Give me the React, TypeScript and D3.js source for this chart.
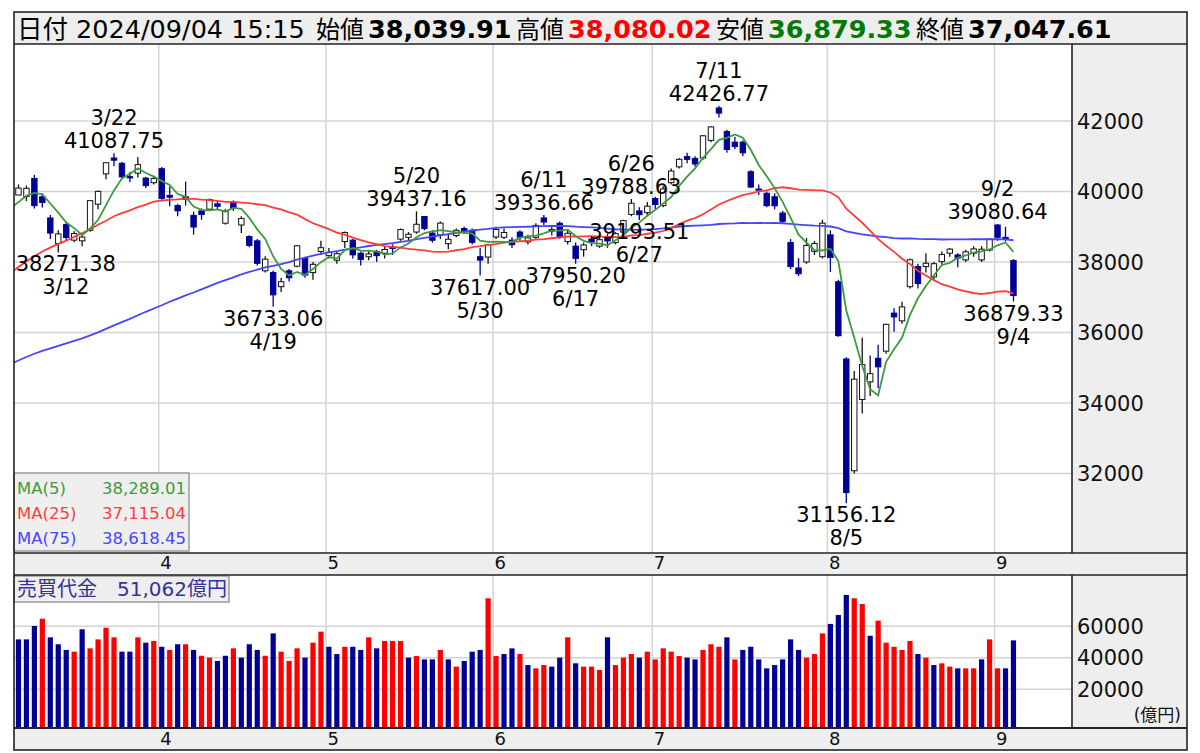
import React from 'react';
import * as d3 from 'd3';

// trading days shown (3/4 sits under the left border)
const dates = ['3/4','3/5','3/6','3/7','3/8','3/11','3/12','3/13','3/14','3/15','3/18','3/19','3/21','3/22','3/25','3/26','3/27','3/28','3/29',
  '4/1','4/2','4/3','4/4','4/5','4/8','4/9','4/10','4/11','4/12','4/15','4/16','4/17','4/18','4/19','4/22','4/23','4/24','4/25','4/26','4/30',
  '5/1','5/2','5/7','5/8','5/9','5/10','5/13','5/14','5/15','5/16','5/17','5/20','5/21','5/22','5/23','5/24','5/27','5/28','5/29','5/30','5/31',
  '6/3','6/4','6/5','6/6','6/7','6/10','6/11','6/12','6/13','6/14','6/17','6/18','6/19','6/20','6/21','6/24','6/25','6/26','6/27','6/28',
  '7/1','7/2','7/3','7/4','7/5','7/8','7/9','7/10','7/11','7/12','7/16','7/17','7/18','7/19','7/22','7/23','7/24','7/25','7/26','7/29','7/30','7/31',
  '8/1','8/2','8/5','8/6','8/7','8/8','8/9','8/13','8/14','8/15','8/16','8/19','8/20','8/21','8/22','8/23','8/26','8/27','8/28','8/29','8/30',
  '9/2','9/3','9/4'];

const opens = [40201,39900,39860,40370,39850,39250,38525,39060,38620,38600,38900,39640,40500,40950,40800,40420,40520,40380,40250,
  40646.7,39890,39600,39850,39322,39450,39500,39650,39100,39700,39050,38720,38600,37750,37700,37300,37750,37880,38100,37700,38300,
  38180,38050,38580,38620,38250,38150,38300,38250,38420,38650,38700,38850,39290,38820,38770,38520,38750,38950,38900,38150,38140,
  38710,38700,38620,38850,38570,38700,39250,38920,39100,38580,38450,38350,38650,38450,38700,38550,38850,39350,39450,39400,
  39800,39600,40250,40700,40990,40940,40950,41450,42370,41700,41400,41400,40560,40070,39950,39850,39390,38550,37830,38000,38300,38150,
  38770,37440,35249.46,32077,34100,34600,35270,35470,36550,36330,37300,37870,37870,37580,38010,38250,38200,38060,38250,38060,38340,
  39050,38700,38039.91];

const highs = [40314,40201,40172,40472,39950,39330,38900,39120,38880,38800,39760,40030,40823,41087.75,40840,40550,40979,40420,40450,
  40697.23,40140,39650,40280,39430,39520,39800,39750,39500,39750,39300,38760,38650,38160,37760,37550,37800,38480,38150,38000,38600,
  38400,38300,38863,38650,38300,38350,38350,38450,38500,38950,38850,39437.16,39300,38900,39150,38780,38950,39000,38950,38400,38520,
  39000,38950,38700,38900,38770,39100,39336.66,39000,39150,38900,38550,38550,38750,38700,38800,38850,39200,39788.63,39550,39700,
  39850,40150,40650,40950,41100,41000,41600,41850,42426.77,41750,41550,41450,40600,40200,40000,39950,39450,38650,38110,38680,38600,39200,
  38900,37500,35300,34911,35849,35350,35650,36250,36690,36870,38100,37950,38250,38000,38300,38400,38250,38350,38450,38450,38650,
  39080.64,39000,38080.02];

const lows = [39926,39896,39727,39518,39545,38650,38271.38,38600,38560,38450,38860,39500,40350,40717,40350,40270,40400,40100,40200,
  39751.29,39580,39300,39600,38774,39200,39450,39500,39060,39450,38820,38420,37900,37700,36733.06,37150,37450,37850,37550,37500,38200,
  38100,37950,38400,38100,37900,38050,38000,38100,38200,38600,38600,38800,38900,38550,38650,38360,38700,38800,38500,37617.0,37950,
  38650,38650,38400,38600,38500,38650,39050,38750,38650,38500,37950.2,38150,38450,38400,38400,38500,38800,39300,39193.51,39300,
  39500,39550,40200,40650,40800,40700,40900,41400,42100,41100,41200,41000,40100,39900,39550,39500,39100,37800,37600,37950,38200,38100,
  37720,35880,31156.12,32000,33700,34200,34420,35400,36020,36250,37250,37250,37700,37500,37900,38150,37850,38000,38150,38000,38300,
  38600,38580,36879.33];

const closes = [40109.23,40097.63,40090.78,39598.71,39688.94,38820.49,38797.51,38695.97,38807.38,38707.64,39740.44,40003.6,40815.66,40888.43,40414.12,40398.03,40762.73,40168.07,40369.44,
  39803.09,39838.91,39451.85,39773.13,38992.08,39347.04,39773.14,39581.81,39442.63,39523.55,39232.8,38471.2,37961.8,38079.7,37068.35,37438.61,37552.16,38460.08,37628.48,37934.76,38405.66,
  38274.05,38236.07,38835.1,38202.37,38073.98,38229.11,38179.46,38356.06,38385.73,38920.26,38787.38,39069.68,38946.93,38617.1,39103.22,38646.11,38900.02,38855.37,38556.87,38054.13,38487.9,
  38923.03,38837.46,38490.17,38703.51,38683.93,39038.16,39134.79,38876.71,38720.47,38814.56,38102.44,38482.11,38570.76,38633.02,38596.47,38804.65,39173.15,39667.07,39341.54,39583.08,
  39631.06,40074.69,40580.76,40913.65,40912.37,40780.7,41580.17,41831.99,42224.02,41190.68,41275.08,41097.69,40126.35,40063.79,39599.0,39594.39,39154.85,37869.51,37667.41,38468.63,38525.95,39101.82,
  38126.33,35909.7,31458.42,34675.46,35089.62,34831.15,35025.0,36232.51,36442.43,36726.64,38062.67,37388.62,37963.97,37951.8,38211.01,38364.27,38110.22,38288.62,38371.76,38362.53,38647.75,
  38700.87,38686.31,37047.61];

// 売買代金 (億円)
const turnover = [55000,51700,51700,60200,64800,53000,48600,45000,43900,58100,46000,51700,59100,53000,43900,43900,53000,49600,50700,
  47000,45000,48600,48600,45000,41300,40100,38000,41300,46000,40100,48600,45000,41300,55500,43900,38000,46000,40100,49600,56600,
  47000,42400,47000,47000,45000,53000,46000,50700,50700,50700,40100,41100,39000,39000,45000,39000,34400,38000,43900,45000,77800,
  41100,42400,46000,42400,35400,33300,35400,34400,40100,53000,36500,34400,34400,32300,53000,35400,40100,42400,40100,43900,
  39000,46000,43900,41100,40100,39000,45000,48600,47000,53000,39000,45000,47000,39000,33300,35400,39000,51700,45000,40100,42400,55500,
  61500,67200,79900,77800,74200,54000,63600,49600,47000,45000,50700,42400,40100,35400,36500,34400,33300,33300,33300,39000,51700,
  33300,33300,51062];

// closes before 3/4 (2023/11/8 - 2024/3/1), used only for the moving averages
const priorCloses = [32166.48,32646.46,32568.11,32585.11,32695.93,33519.7,33424.41,33585.2,33388.03,33354.14,33451.83,33625.53,33447.67,33408.39,33321.22,33486.89,
  33431.51,33231.27,32775.82,33445.9,32858.31,32307.86,32791.8,32843.71,32926.35,32686.25,32970.55,32758.98,33219.39,33675.94,33140.47,33169.05,33254.03,33305.85,33681.24,33539.62,33464.17,
  33288.29,33377.42,33763.18,34441.72,35049.86,35577.11,35901.79,35619.18,35477.75,35466.17,35963.27,36546.95,36517.57,36226.48,36236.47,35751.07,36026.94,36065.86,36286.71,
  36011.46,36158.02,36354.16,36160.66,36119.92,36863.28,36897.42,37963.97,37703.32,38157.94,38487.24,38470.38,38363.61,38262.16,39098.68,39233.71,39239.52,39208.03,39166.19,
  39910.82];

const priceTicks = [42000, 40000, 38000, 36000, 34000, 32000];
const volumeTicks = [60000, 40000, 20000];
const peakDates = ['3/22', '5/20', '6/11', '6/26', '7/11', '9/2'];
const troughDates = ['3/12', '4/19', '5/30', '6/17', '6/27', '8/5', '9/4'];
const maPeriods = [5, 25, 75];
const maColors = ['#3d9a3d', '#ff3c3c', '#4646ff'];
const maLegend = ['38,289.01', '37,115.04', '38,618.45'];
const headerItems = [
  { label: '始値', value: '38,039.91', color: '#000' },
  { label: '高値', value: '38,080.02', color: '#ff0000' },
  { label: '安値', value: '36,879.33', color: '#007a00' },
  { label: '終値', value: '37,047.61', color: '#000' },
];

const FONT = "'DejaVu Sans', 'Noto Sans CJK JP', sans-serif";
const L = 14, R = 1072, AR = 1187;
const PT = 44, PB = 553, VT = 575, VB = 728, BOT = 750;
const DOWN = '#000096';

export default function App() {
  const x = d3.scaleLinear().domain([0, closes.length - 1]).range([10.5, 10.5 + 7.96 * (closes.length - 1)]);
  const y = d3.scaleLinear().domain([32000, 42000]).range([473.5, 121]);
  const yv = d3.scaleLinear().domain([0, 60000]).range([720.8, 626.3]);

  const all = [...priorCloses, ...closes];
  const P = priorCloses.length;
  const maSeries = maPeriods.map(n => closes.map((_, i) => d3.mean(all.slice(P + i - n + 1, P + i + 1)) as number));
  const line = d3.line<number>().x((_, i) => x(i)).y(d => y(d));

  const monthStarts = dates.map((d, i) => i).filter(i => i > 0 && dates[i].split('/')[0] !== dates[i - 1].split('/')[0]);
  const gx = (i: number) => x(i) - 3;

  const labelCenter = (i: number, w: number) => Math.max(L + w / 2 + 1, Math.min(R - w / 2 - 1, x(i)));

  return (
    <div style={{ position: 'absolute', left: 0, top: 0 }}>
      <svg width={1200} height={753} style={{ display: 'block', fontFamily: FONT }}>
        <defs>
          <clipPath id="pc"><rect x={L} y={PT} width={R - L} height={PB - PT} /></clipPath>
          <clipPath id="vc"><rect x={L} y={VT} width={R - L} height={VB - VT} /></clipPath>
        </defs>
        <rect x={0} y={0} width={1200} height={753} fill="#fff" />

        {/* header */}
        <rect x={L} y={12} width={AR - L} height={PT - 12} fill="#eeeeee" />
        <text x={17} y={38} fontSize={25.5} fill="#000">日付 2024/09/04 15:15</text>
        {headerItems.map((h, k) => (
          <g key={h.label}>
            <text x={316 + k * 200} y={38} fontSize={24} fill="#000">{h.label}</text>
            <text x={368 + k * 200} y={38} fontSize={25.5} fontWeight="bold" fill={h.color}>{h.value}</text>
          </g>
        ))}

        {/* side panels and strips */}
        <rect x={R} y={PT} width={AR - R} height={PB - PT} fill="#eeeeee" />
        <rect x={R} y={VT} width={AR - R} height={VB - VT} fill="#eeeeee" />
        <rect x={L} y={PB} width={AR - L} height={VT - PB} fill="#eeeeee" />
        <rect x={L} y={VB} width={AR - L} height={BOT - VB} fill="#eeeeee" />

        {/* grid */}
        <g stroke="#d4d4d4" strokeWidth={1.5}>
          {priceTicks.map(t => <line key={t} x1={L} x2={R} y1={y(t)} y2={y(t)} />)}
          {monthStarts.map(i => <line key={'p' + i} x1={gx(i)} x2={gx(i)} y1={PT} y2={PB} />)}
          {volumeTicks.map(t => <line key={'v' + t} x1={L} x2={R} y1={yv(t)} y2={yv(t)} />)}
          {monthStarts.map(i => <line key={'q' + i} x1={gx(i)} x2={gx(i)} y1={VT} y2={VB} />)}
        </g>

        {/* candles */}
        <g clipPath="url(#pc)">
          {closes.map((c, i) => {
            const o = opens[i];
            const up = c >= o;
            const col = up ? '#111' : DOWN;
            const top = y(Math.max(o, c));
            const h = Math.max(1.2, y(Math.min(o, c)) - top);
            return (
              <g key={i}>
                <line x1={x(i)} x2={x(i)} y1={y(highs[i])} y2={y(lows[i])} stroke={col} strokeWidth={1.3} />
                <rect x={x(i) - 2.7} y={top} width={5.4} height={h} fill={up ? '#fff' : DOWN} stroke={col} strokeWidth={1} />
              </g>
            );
          })}
          {maSeries.slice().reverse().map((s, k) => (
            <path key={k} d={line(s) || ''} fill="none" stroke={maColors[2 - k]} strokeWidth={1.8} />
          ))}
        </g>

        {/* volume */}
        <g clipPath="url(#vc)">
          {turnover.map((v, i) => {
            const up = i === 0 ? true : closes[i] >= closes[i - 1];
            return <rect key={i} x={x(i) - 2.6} y={yv(v)} width={5.2} height={VB - yv(v)} fill={up ? '#ff0000' : DOWN} />;
          })}
        </g>

        {/* annotations */}
        <g fontSize={21} fill="#000" textAnchor="middle">
          {peakDates.map(d => {
            const i = dates.indexOf(d);
            const v = highs[i].toFixed(2);
            const cx = labelCenter(i, v.length * 12.7);
            const by = y(highs[i]) - 5;
            return (
              <g key={d}>
                <text x={cx} y={by - 23}>{d}</text>
                <text x={cx} y={by}>{v}</text>
              </g>
            );
          })}
          {troughDates.map(d => {
            const i = dates.indexOf(d);
            const v = lows[i].toFixed(2);
            const cx = labelCenter(i, v.length * 12.7);
            const by = y(lows[i]) + 19;
            return (
              <g key={d}>
                <text x={cx} y={by}>{v}</text>
                <text x={cx} y={by + 23}>{d}</text>
              </g>
            );
          })}
        </g>

        {/* MA legend */}
        <rect x={L} y={473} width={175} height={78} fill="#eeeeee" fillOpacity={0.92} stroke="#9a9a9a" strokeWidth={1.5} />
        {maPeriods.map((n, k) => (
          <g key={n} fontSize={16.5} fill={maColors[k]}>
            <text x={17} y={494 + k * 25}>{`MA(${n})`}</text>
            <text x={186} y={494 + k * 25} textAnchor="end">{maLegend[k]}</text>
          </g>
        ))}

        {/* turnover caption */}
        <rect x={L} y={576} width={215} height={26} fill="#eeeeee" stroke="#9a9a9a" strokeWidth={1.5} />
        <text x={17} y={596} fontSize={20} fill="#333399">売買代金　51,062億円</text>

        {/* axis labels */}
        <g fontSize={21} fill="#111">
          {priceTicks.map(t => <text key={t} x={1077} y={y(t) + 7.5}>{t}</text>)}
          {volumeTicks.map(t => <text key={t} x={1077} y={yv(t) + 7.5}>{t}</text>)}
        </g>
        <text x={1181} y={721} fontSize={17} fill="#111" textAnchor="end">(億円)</text>
        <g fontSize={18} fill="#111">
          {monthStarts.map(i => (
            <g key={i}>
              <text x={gx(i) + 1.5} y={569}>{dates[i].split('/')[0]}</text>
              <text x={gx(i) + 1.5} y={745}>{dates[i].split('/')[0]}</text>
            </g>
          ))}
        </g>

        {/* frame */}
        <g stroke="#222" strokeWidth={1.6} fill="none">
          <rect x={L} y={12} width={AR - L} height={BOT - 12} />
          <line x1={L} x2={AR} y1={PT} y2={PT} />
          <line x1={L} x2={AR} y1={PB} y2={PB} />
          <line x1={L} x2={AR} y1={VT} y2={VT} />
          <line x1={L} x2={AR} y1={VB} y2={VB} strokeWidth={2} />
          <line x1={R} x2={R} y1={PT} y2={PB} />
          <line x1={R} x2={R} y1={VT} y2={VB} />
        </g>
      </svg>
    </div>
  );
}
